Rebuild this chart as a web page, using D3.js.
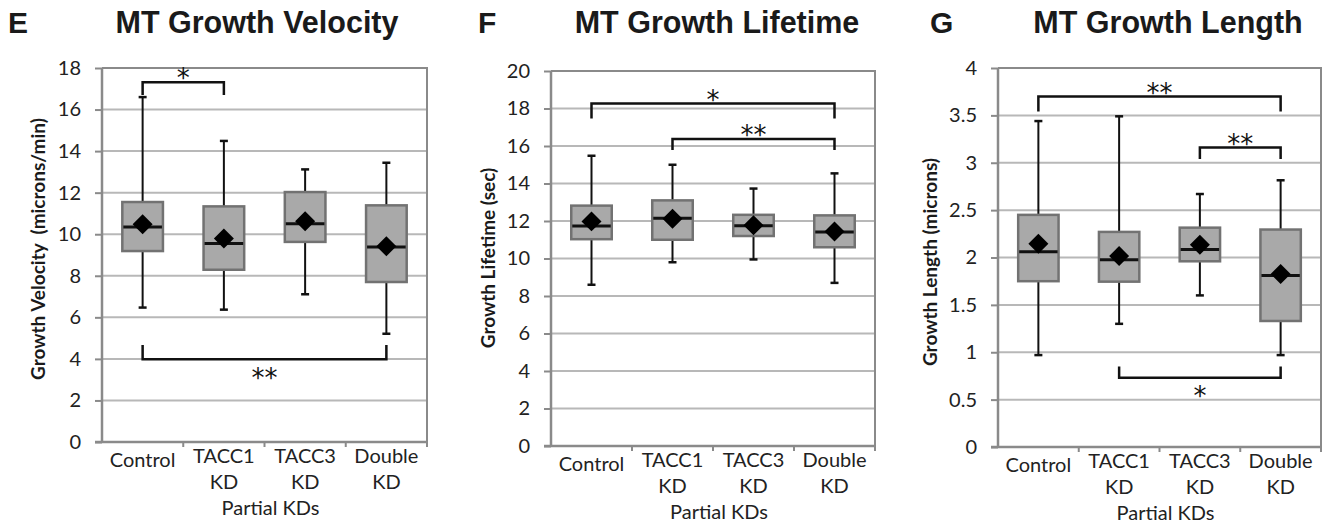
<!DOCTYPE html>
<html>
<head>
<meta charset="utf-8">
<script src="https://cdn.jsdelivr.net/npm/d3@7"></script>
<style>
  body { margin: 0; background: #fff; }
  svg { display: block; }
  .tick text { font-family: Lato, "Open Sans", sans-serif; fill: #222; }
</style>
</head>
<body>
<svg id="chart" width="1323" height="526"></svg>
<script>
// categories (each label split on its two lines)
var categories = ["Control", "TACC1 KD", "TACC3 KD", "Double KD"];
var categoryLines = [["Control"], ["TACC1", "KD"], ["TACC3", "KD"], ["Double", "KD"]];

// E - growth velocity (microns/min)
var velocityLow    = [6.47, 6.37, 7.11, 5.21];
var velocityQ1     = [9.19, 8.29, 9.63, 7.70];
var velocityMedian = [10.35, 9.55, 10.51, 9.39];
var velocityQ3     = [11.55, 11.34, 12.03, 11.39];
var velocityHigh   = [16.6, 14.49, 13.12, 13.44];
var velocityMean   = [10.48, 9.79, 10.62, 9.42];
var velocityTicks  = [0, 2, 4, 6, 8, 10, 12, 14, 16, 18];

// F - growth lifetime (sec)
var lifetimeLow    = [8.6, 9.8, 9.95, 8.7];
var lifetimeQ1     = [11.03, 11.0, 11.2, 10.6];
var lifetimeMedian = [11.73, 12.15, 11.75, 11.42];
var lifetimeQ3     = [12.82, 13.1, 12.33, 12.3];
var lifetimeHigh   = [15.48, 15.0, 13.73, 14.54];
var lifetimeMean   = [11.98, 12.12, 11.77, 11.44];
var lifetimeTicks  = [0, 2, 4, 6, 8, 10, 12, 14, 16, 18, 20];

// G - growth length (microns)
var lengthLow    = [0.97, 1.30, 1.60, 0.97];
var lengthQ1     = [1.75, 1.745, 1.96, 1.33];
var lengthMedian = [2.06, 1.975, 2.085, 1.81];
var lengthQ3     = [2.45, 2.27, 2.315, 2.295];
var lengthHigh   = [3.44, 3.49, 2.67, 2.815];
var lengthMean   = [2.145, 2.015, 2.135, 1.825];
var lengthTicks  = [0, 0.5, 1, 1.5, 2, 2.5, 3, 3.5, 4];

// significance brackets: [from, to, bar value, leg end value, label]
var velocitySig = [["Control", "TACC1 KD", 17.32, 16.7, "*"], ["Control", "Double KD", 3.98, 4.67, "**"]];
var lifetimeSig = [["Control", "Double KD", 18.27, 17.47, "*"], ["TACC1 KD", "Double KD", 16.37, 15.79, "**"]];
var lengthSig   = [["Control", "Double KD", 3.70, 3.54, "**"], ["TACC3 KD", "Double KD", 3.16, 3.04, "**"], ["TACC1 KD", "Double KD", 0.73, 0.85, "*"]];

function rows(low, q1, med, q3, high, mean) {
  return categories.map(function (c, i) {
    return { cat: c, low: low[i], q1: q1[i], med: med[i], q3: q3[i], high: high[i], mean: mean[i] };
  });
}

var panels = [
  { letter: "E", title: "MT Growth Velocity", ylabel: "Growth Velocity  (microns/min)",
    left: 102, right: 427, top: 68, bottom: 442, letterX: 8, titleX: 257, ylabelX: 38, ylabelY: 249,
    data: rows(velocityLow, velocityQ1, velocityMedian, velocityQ3, velocityHigh, velocityMean),
    ticks: velocityTicks, sig: velocitySig, fmt: d3.format("d") },
  { letter: "F", title: "MT Growth Lifetime", ylabel: "Growth Lifetime (sec)",
    left: 551, right: 875, top: 71, bottom: 446, letterX: 478, titleX: 717, ylabelX: 488, ylabelY: 258,
    data: rows(lifetimeLow, lifetimeQ1, lifetimeMedian, lifetimeQ3, lifetimeHigh, lifetimeMean),
    ticks: lifetimeTicks, sig: lifetimeSig, fmt: d3.format("d") },
  { letter: "G", title: "MT Growth Length", ylabel: "Growth Length (microns)",
    left: 998, right: 1321, top: 68, bottom: 447, letterX: 930, titleX: 1168, ylabelX: 930, ylabelY: 262,
    data: rows(lengthLow, lengthQ1, lengthMedian, lengthQ3, lengthHigh, lengthMean),
    ticks: lengthTicks, sig: lengthSig, fmt: function (d) { return String(d); } }
];

var svg = d3.select("#chart");
svg.append("rect").attr("width", 1323).attr("height", 526).attr("fill", "#fff");

var axisGray = "#8a8a8a";
var gridGray = "#b8b8b8";

panels.forEach(function (p) {
  var x = d3.scaleBand().domain(categories).range([p.left, p.right]).paddingInner(0).paddingOuter(0);
  var y = d3.scaleLinear().domain([0, d3.max(p.ticks)]).range([p.bottom, p.top]);
  var g = svg.append("g");

  // titles
  g.append("text").attr("x", p.letterX).attr("y", 33)
    .style("font-family", "'Liberation Sans', Arial, sans-serif").style("font-weight", "bold")
    .style("font-size", "30px").attr("fill", "#1a1a1a").text(p.letter);
  g.append("text").attr("x", p.titleX).attr("y", 33).attr("text-anchor", "middle")
    .style("font-family", "'Liberation Sans', Arial, sans-serif").style("font-weight", "bold")
    .style("font-size", "30.5px").attr("fill", "#1a1a1a").text(p.title);

  // gridlines
  g.append("g").selectAll("line").data(p.ticks.slice(1, -1)).join("line")
    .attr("x1", p.left).attr("x2", p.right)
    .attr("y1", function (d) { return y(d); }).attr("y2", function (d) { return y(d); })
    .attr("stroke", gridGray).attr("stroke-width", 2);

  // plot frame top + right
  g.append("path")
    .attr("d", "M" + p.left + "," + y(d3.max(p.ticks)) + "H" + p.right + "V" + p.bottom)
    .attr("fill", "none").attr("stroke", axisGray).attr("stroke-width", 2);

  // y axis
  var yAxis = g.append("g").attr("transform", "translate(" + p.left + ",0)")
    .call(d3.axisLeft(y).tickValues(p.ticks).tickFormat(p.fmt).tickSize(7).tickPadding(14));
  yAxis.select(".domain").attr("stroke", axisGray).attr("stroke-width", 2.5)
    .attr("d", "M0," + p.top + "V" + p.bottom);
  yAxis.selectAll(".tick line").attr("stroke", axisGray).attr("stroke-width", 2);
  yAxis.selectAll(".tick text").style("font-size", "20px");

  // x axis line and boundary ticks
  g.append("line").attr("x1", p.left - 7).attr("x2", p.right)
    .attr("y1", p.bottom).attr("y2", p.bottom)
    .attr("stroke", axisGray).attr("stroke-width", 2.5);
  g.append("g").selectAll("line").data(categories.slice(1).concat(["_end"])).join("line")
    .attr("x1", function (d) { return d === "_end" ? p.right : x(d); })
    .attr("x2", function (d) { return d === "_end" ? p.right : x(d); })
    .attr("y1", p.bottom).attr("y2", p.bottom + 5)
    .attr("stroke", axisGray).attr("stroke-width", 2);

  // category labels
  var labels = g.append("g").selectAll("text").data(categoryLines).join("text")
    .attr("text-anchor", "middle")
    .style("font-family", "Lato, 'Open Sans', sans-serif").style("font-size", "20px").attr("fill", "#222")
    .attr("transform", function (d, i) {
      var cx = x(categories[i]) + x.bandwidth() / 2;
      return "translate(" + cx + "," + (p.bottom + (d.length === 1 ? 25 : 21)) + ")";
    });
  labels.selectAll("tspan").data(function (d) { return d; }).join("tspan")
    .attr("x", 0).attr("dy", function (d, i) { return i === 0 ? 0 : 26; })
    .text(function (d) { return d; });

  g.append("text").attr("x", (p.left + p.right) / 2 + 6).attr("y", p.bottom + 73)
    .attr("text-anchor", "middle")
    .style("font-family", "Lato, 'Open Sans', sans-serif").style("font-size", "20px").attr("fill", "#222")
    .text("Partial KDs");

  // y label
  g.append("text")
    .attr("transform", "translate(" + p.ylabelX + "," + p.ylabelY + ") rotate(-90)")
    .attr("text-anchor", "middle").attr("dy", "0.35em")
    .style("font-family", "Lato, 'Open Sans', sans-serif").style("font-weight", "bold")
    .style("font-size", "19px").style("white-space", "pre").attr("fill", "#1a1a1a")
    .text(p.ylabel);

  // boxes
  var boxW = x.bandwidth() * 0.5;
  var capW = 8;
  var box = g.append("g").selectAll("g").data(p.data).join("g")
    .attr("transform", function (d) { return "translate(" + (x(d.cat) + x.bandwidth() / 2) + ",0)"; });

  box.append("line").attr("x1", 0).attr("x2", 0)
    .attr("y1", function (d) { return y(d.high); }).attr("y2", function (d) { return y(d.low); })
    .attr("stroke", "#111").attr("stroke-width", 2);
  box.append("line").attr("x1", -capW / 2).attr("x2", capW / 2)
    .attr("y1", function (d) { return y(d.high); }).attr("y2", function (d) { return y(d.high); })
    .attr("stroke", "#111").attr("stroke-width", 2.5);
  box.append("line").attr("x1", -capW / 2).attr("x2", capW / 2)
    .attr("y1", function (d) { return y(d.low); }).attr("y2", function (d) { return y(d.low); })
    .attr("stroke", "#111").attr("stroke-width", 2.5);
  box.append("rect").attr("x", -boxW / 2).attr("width", boxW)
    .attr("y", function (d) { return y(d.q3); })
    .attr("height", function (d) { return y(d.q1) - y(d.q3); })
    .attr("fill", "#a9a9a9").attr("stroke", "#727272").attr("stroke-width", 2.5);
  box.append("line").attr("x1", -boxW / 2 + 1).attr("x2", boxW / 2 - 1)
    .attr("y1", function (d) { return y(d.med); }).attr("y2", function (d) { return y(d.med); })
    .attr("stroke", "#111").attr("stroke-width", 3);
  box.append("path")
    .attr("d", d3.symbol(d3.symbolSquare, 200))
    .attr("transform", function (d) { return "translate(0," + y(d.mean) + ") rotate(45)"; })
    .attr("fill", "#000");

  // significance brackets
  var sig = g.append("g").selectAll("g").data(p.sig).join("g");
  sig.append("path")
    .attr("d", function (s) {
      var x1 = x(s[0]) + x.bandwidth() / 2, x2 = x(s[1]) + x.bandwidth() / 2;
      return "M" + x1 + "," + y(s[3]) + "V" + y(s[2]) + "H" + x2 + "V" + y(s[3]);
    })
    .attr("fill", "none").attr("stroke", "#111").attr("stroke-width", 2.5);
  sig.append("text")
    .attr("x", function (s) { return (x(s[0]) + x(s[1]) + x.bandwidth()) / 2; })
    .attr("y", function (s) { return s[3] > s[2] ? y(s[2]) + 13 : y(s[2]) - 9; })
    .attr("dy", "0.55em")
    .attr("text-anchor", "middle")
    .style("font-family", "'DejaVu Sans', sans-serif").style("font-size", "26px").attr("fill", "#111")
    .text(function (s) { return s[4]; });
});
</script>
</body>
</html>
